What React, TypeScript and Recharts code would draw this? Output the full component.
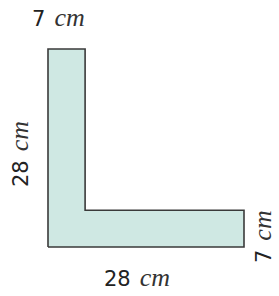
import React from "react";
import { ComposedChart, Area, Line, XAxis, YAxis, Customized } from "recharts";

// L outline, in the units of the drawing (arm thickness drawn thinner than its label)
const outlineX = [0, 0, 5.3, 5.3, 28, 28, 0];
const outlineY = [0, 28, 28, 5.2, 5.2, 0, 0];
const fillX = [0, 5.3, 5.3, 28];
const fillY = [28, 28, 5.2, 5.2];

const sideValues = ["7", "28", "28", "7"];
const sideUnit = "cm";

const outline = outlineX.map((x, i) => ({ x, y: outlineY[i] }));
const fill = fillX.map((x, i) => ({ x, y: fillY[i] }));

const W = 279;
const H = 296;

const numFont = "'DejaVu Sans', sans-serif";
const unitFont = "'Liberation Serif', serif";

function SideLabel({ x, y, angle, value }: { x: number; y: number; angle: number; value: string }) {
  return (
    <text
      x={x}
      y={y}
      textAnchor="start"
      transform={angle ? `rotate(${angle} ${x} ${y})` : undefined}
      fill="#222"
    >
      <tspan fontFamily={numFont} fontSize={21}>{value}</tspan>
      <tspan fontFamily={unitFont} fontStyle="italic" fontSize={26} fill="#333" dx={9}>{sideUnit}</tspan>
    </text>
  );
}

function Labels() {
  return (
    <g>
      <SideLabel x={32} y={26} angle={0} value={sideValues[0]} />
      <SideLabel x={28} y={187} angle={-90} value={sideValues[1]} />
      <SideLabel x={104} y={286} angle={0} value={sideValues[2]} />
      <SideLabel x={271} y={263} angle={-90} value={sideValues[3]} />
    </g>
  );
}

export default function App() {
  return (
    <div style={{ position: "absolute", left: 0, top: 0, width: W, height: H, background: "#fff" }}>
      <ComposedChart width={W} height={H} margin={{ top: 49, right: 35, bottom: 49, left: 48 }}>
        <XAxis type="number" dataKey="x" domain={[0, 28]} hide />
        <YAxis type="number" domain={[0, 28]} hide />
        <Area
          data={fill}
          dataKey="y"
          type="linear"
          baseValue={0}
          fill="#cfe8e3"
          fillOpacity={1}
          stroke="none"
          isAnimationActive={false}
        />
        <Line
          data={outline}
          dataKey="y"
          type="linear"
          stroke="#3a3a3a"
          strokeWidth={1.6}
          dot={false}
          isAnimationActive={false}
        />
        <Customized component={Labels} />
      </ComposedChart>
    </div>
  );
}
